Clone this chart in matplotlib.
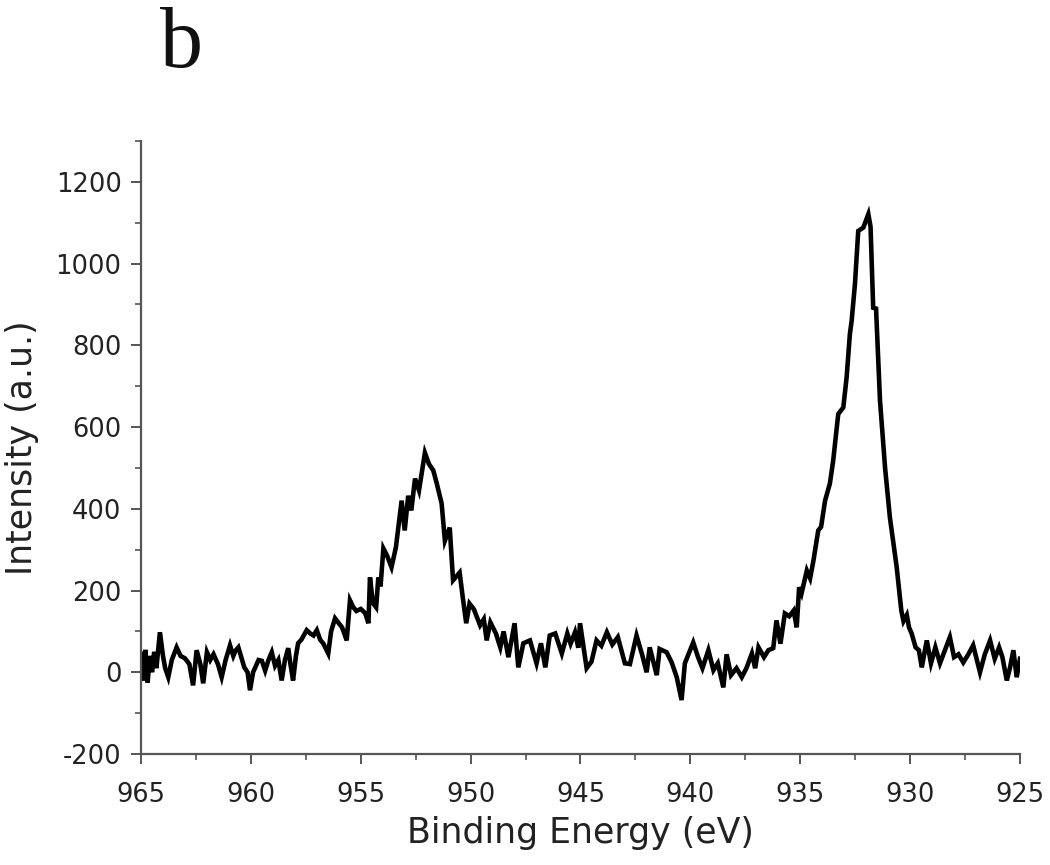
import matplotlib
matplotlib.use("Agg")
import matplotlib.pyplot as plt
from matplotlib.ticker import MultipleLocator

energy = [
    965.0, 964.9, 964.8, 964.7, 964.6, 964.5, 964.4, 964.3, 964.14, 964.0, 963.9, 963.76,
    963.6, 963.38, 963.2, 963.0, 962.8, 962.63, 962.47, 962.3, 962.17, 962.0, 961.85, 961.7,
    961.5, 961.33, 961.15, 960.95, 960.8, 960.7, 960.57, 960.4, 960.3, 960.15, 960.04, 959.9,
    959.8, 959.65, 959.5, 959.35, 959.2, 959.05, 958.9, 958.75, 958.6, 958.45, 958.3, 958.2,
    958.08, 957.95, 957.85, 957.7, 957.46, 957.3, 957.15, 957.0, 956.85, 956.7, 956.48, 956.35,
    956.17, 956.0, 955.85, 955.64, 955.49, 955.35, 955.2, 955.0, 954.9, 954.8, 954.65, 954.58,
    954.45, 954.3, 954.2, 954.1, 953.97, 953.8, 953.6, 953.4, 953.14, 953.0, 952.84, 952.7,
    952.53, 952.35, 952.08, 951.9, 951.7, 951.54, 951.32, 951.17, 950.95, 950.8, 950.5, 950.35,
    950.2, 950.05, 949.85, 949.57, 949.4, 949.27, 949.1, 948.85, 948.65, 948.5, 948.28, 948.0,
    947.83, 947.6, 947.3, 947.0, 946.8, 946.6, 946.4, 946.15, 945.85, 945.6, 945.45, 945.25,
    945.1, 945.02, 944.72, 944.5, 944.27, 944.05, 943.8, 943.55, 943.3, 942.98, 942.75, 942.45,
    942.2, 941.99, 941.85, 941.53, 941.4, 941.08, 940.85, 940.62, 940.4, 940.25, 939.87, 939.65,
    939.45, 939.18, 938.95, 938.75, 938.5, 938.35, 938.15, 937.9, 937.66, 937.45, 937.2, 937.05,
    936.9, 936.65, 936.45, 936.23, 936.08, 935.9, 935.7, 935.5, 935.3, 935.16, 935.05, 934.94,
    934.7, 934.55, 934.4, 934.18, 934.05, 933.87, 933.65, 933.5, 933.27, 933.04, 932.89, 932.74,
    932.66, 932.51, 932.36, 932.13, 931.9, 931.8, 931.68, 931.55, 931.37, 931.14, 930.92, 930.61,
    930.4, 930.3, 930.15, 930.05, 929.93, 929.75, 929.6, 929.47, 929.24, 929.05, 928.85, 928.64,
    928.45, 928.19, 928.0, 927.8, 927.58, 927.35, 927.13, 926.82, 926.6, 926.36, 926.15, 925.95,
    925.8, 925.6, 925.45, 925.3, 925.15, 925.0,
]

intensity = [
    45, -20, 55, -25, 40, 0, 50, 10, 98, 40, 10, -12,
    30, 61, 40, 34, 20, -32, 54, 20, -27, 49, 30, 44,
    20, -12, 30, 66, 40, 53, 61, 30, 12, 0, -44, 0,
    12, 30, 28, 4, 30, 49, 16, 30, -20, 30, 59, 20,
    -20, 40, 71, 80, 103, 95, 90, 103, 80, 70, 46, 100,
    132, 120, 110, 78, 176, 160, 150, 155, 150, 145, 120, 232,
    170, 159, 232, 210, 303, 285, 257, 306, 420, 347, 432, 396,
    474, 445, 537, 510, 494, 462, 413, 322, 354, 225, 244, 180,
    120, 168, 154, 115, 130, 78, 122, 95, 61, 100, 37, 120,
    12, 71, 78, 22, 71, 12, 90, 95, 46, 95, 70, 98,
    60, 120, 10, 26, 78, 65, 98, 68, 86, 22, 20, 90,
    44, 0, 61, -7, 57, 49, 24, -12, -68, 22, 73, 37,
    10, 54, 5, 22, -37, 44, -7, 10, -12, 10, 46, 10,
    61, 37, 54, 59, 127, 70, 144, 137, 151, 110, 208, 193,
    249, 230, 273, 347, 356, 420, 462, 518, 632, 648, 721, 828,
    860, 950, 1080, 1088, 1121, 1090, 892, 890, 665, 501, 379, 257,
    151, 125, 140, 110, 95, 61, 54, 12, 78, 22, 61, 22,
    49, 86, 37, 44, 24, 44, 66, 0, 44, 78, 33, 61,
    37, -20, 12, 54, -12, 33,
]

x_ticks = [965, 960, 955, 950, 945, 940, 935, 930, 925]
y_ticks = [-200, 0, 200, 400, 600, 800, 1000, 1200]

plt.rcParams['font.family'] = ['DejaVu Sans']
plt.rcParams['axes.unicode_minus'] = False

fig = plt.figure(figsize=(10.5, 8.65), dpi=100)
ax = fig.add_axes([0.1343, 0.1283, 0.8371, 0.7087])

ax.plot(energy, intensity, color='black', lw=3.3, solid_joinstyle='miter')

ax.set_xlim(965, 925)
ax.set_ylim(-200, 1300)
ax.set_xticks(x_ticks)
ax.set_yticks(y_ticks)
ax.xaxis.set_minor_locator(MultipleLocator(2.5))
ax.yaxis.set_minor_locator(MultipleLocator(100))

for s in ['top', 'right']:
    ax.spines[s].set_visible(False)
for s in ['left', 'bottom']:
    ax.spines[s].set_color('#555555')
    ax.spines[s].set_linewidth(1.6)

ax.tick_params(which='major', direction='out', length=7, width=1.4, color='#555555',
               labelsize=18.5, labelcolor='#222222')
ax.tick_params(which='minor', direction='out', length=4, width=1.2, color='#555555')
ax.tick_params(axis='x', which='major', pad=13)
ax.tick_params(axis='y', which='major', pad=7)

ax.set_xlabel('Binding Energy (eV)', fontsize=25, color='#222222', labelpad=6)
ax.set_ylabel('Intensity (a.u.)', fontsize=25, color='#222222', labelpad=12)

fig.text(0.152, 0.923, 'b', family='Liberation Serif', fontsize=62, color='#111111',
         ha='left', va='baseline')

fig.savefig('out.png', dpi=100)
